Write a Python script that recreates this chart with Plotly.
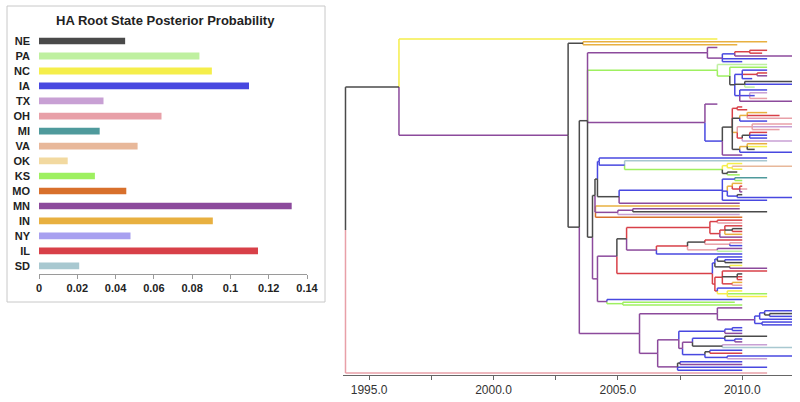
import re
import plotly.graph_objects as go

W, H = 800, 402

# ---------------- bar chart data ----------------
states = ["NE", "PA", "NC", "IA", "TX", "OH", "MI", "VA", "OK", "KS", "MO", "MN", "IN", "NY", "IL", "SD"]
root_prob = [0.0450, 0.0838, 0.0903, 0.1097, 0.0337, 0.0640, 0.0317, 0.0515,
             0.0150, 0.0292, 0.0456, 0.1320, 0.0908, 0.0478, 0.1144, 0.0210]
state_colors = ["#4a4a4a", "#bff0a0", "#f5ee4a", "#4848e0", "#c8a0d4", "#e8a0a8", "#4f9a9c", "#e8b89a",
                "#f2d9a0", "#9ef060", "#d8702c", "#8c4a9c", "#e8b040", "#a8a0f0", "#d84048", "#a8c8d0"]
bar_ticks = [0, 0.02, 0.04, 0.06, 0.08, 0.10, 0.12, 0.14]
bar_ticktext = ["0", "0.02", "0.04", "0.06", "0.08", "0.1", "0.12", "0.14"]

# ---------------- tree data (newick-like: STATE:time) ----------------
clade_top = "(IN:2011.0,IN:2009.8)NE:2003.6"
clade_P1 = "(MN:2009.0,(((IL:2011.0,IL:2010.8)IL:2010.3,MN:2012.0)IA:2009.7,IA:2011.0,IA:2010.0)MN:2009.2)MN:2008.6"
clade_G = ("(PA:2011.0,(KS:2011.0,((IA:2011.0,(IL:2011.0,MN:2011.0)IL:2010.6,IA:2010.4)IA:2010.0,"
           "(NE:2012.0,IA:2012.0,PA:2010.5)NE:2010.1,(IA:2011.0,(TX:2011.0,IA:2010.5,OH:2011.0)IA:2010.3,"
           "MN:2012.0)IA:2009.9)NE:2009.7)KS:2009.5)KS:2009.0")
p2_c1 = "(IL:2010.0,IL:2010.2)IL:2009.8"
p2_c2 = "((IN:2011.0,IL:2011.5,OH:2012.0)IN:2010.2,IA:2011.0)NE:2009.9"
p2_c3 = "((OH:2012.0,TX:2012.0,OH:2011.5)OH:2010.4,((IL:2011.0,IA:2011.0,IA:2011.0)NE:2010.3,TX:2012.0)IL:2010.0)IN:2009.8"
p2_c4 = "((IN:2011.0,NC:2011.0,NE:2010.5)IN:2010.2,IA:2012.0)NE:2009.9"
clade_P2 = "(MN:2009.0,((" + ",".join([p2_c1, p2_c2, p2_c3, p2_c4]) + ")NE:2009.6,MN:2010.0)IA:2009.2)MN:2008.5"
clade_M1a = ("(IA:2011.0,(SD:2011.0,((NC:2010.0,(VA:2012.0,NC:2010.0)NC:2009.6)NC:2009.4,"
             "(NE:2009.8,KS:2009.9)NE:2009.4)KS:2009.2)IA:2005.27)IA:2004.25")
clade_IA = ("((MI:2011.0,KS:2010.0)IA:2009.7,((IN:2010.0,(IL:2010.0,OH:2010.2,MN:2010.0)IL:2009.9)IN:2009.6,"
            "(NE:2010.0,IA:2012.0)IA:2009.8)IA:2009.4,IA:2011.0)IA:2009.2")
clade_M1b = "(" + clade_IA + ",MN:2009.9)NE:2005.05"
clade_M2 = "(IN:2009.9,((MN:2009.9,NE:2011.0)MN:2005.6,TX:2009.9)MN:2005.0,MO:2010.0)MN:2004.1"
clade_M = "((" + clade_M1a + "," + clade_M1b + ")NE:2004.18," + clade_M2 + ")NE:2004.08"
clade_red = ("((IL:2010.0,OH:2010.0)IL:2009.0,((IL:2010.0,(NE:2010.0,IL:2010.0)NE:2009.6,IN:2010.0)IL:2009.3,"
             "MN:2010.0)IL:2009.1)IL:2008.7")
clade_L2a1b = ("(((IL:2010.0,(OH:2010.0,IA:2010.0)OH:2009.5)NE:2008.5,(MN:2010.0,PA:2010.0)OH:2009.0)IL:2007.8,"
               "IA:2010.0)MN:2006.55")
clade_L2a2a = "((IA:2010.0,(IA:2010.0,NE:2010.0)NE:2009.3)IA:2009.0,(NC:2010.0,MN:2011.0)NE:2009.5)IA:2008.9"
clade_L2a2b = ("((IL:2011.0,(NE:2010.0,IL:2010.0,IL:2010.0)NE:2009.8,(IN:2010.0,OH:2010.0)IL:2009.6)IL:2009.2,"
               "(IA:2010.0,(NC:2010.0,KS:2011.0,NC:2011.0)NC:2009.4)IL:2009.0)IL:2008.9")
clade_L2a = ("((" + clade_red + "," + clade_L2a1b + ")NE:2005.35,(" + clade_L2a2a + "," + clade_L2a2b +
             ")IL:2008.8)MN:2004.96")
clade_L2b = "(IA:2010.0,(KS:2009.7,KS:2010.0)KS:2005.2)MN:2004.56"
clade_L1 = "(" + clade_M + ",(" + clade_L2a + "," + clade_L2b + ")MN:2004.18)NE:2003.98"
clade_C1 = ("(MN:2010.0,(((IA:2012.0,(NE:2012.0,IA:2012.0)NE:2011.1)IA:2010.9,IA:2012.0)IA:2010.7,"
            "(IA:2012.0,IA:2012.0)IA:2010.8)MN:2010.5)MN:2009.0")
clade_C2a1 = "((IA:2010.0,IA:2010.0)IA:2009.6,MN:2010.0)IA:2009.3"
clade_C2a2 = "((NE:2011.0,(IA:2010.0,MN:2010.0)IA:2009.7)IA:2009.3,(TX:2011.0,SD:2012.0)NE:2009.2)MN:2008.0"
clade_C2a3 = "((IA:2010.0,IL:2010.0)NE:2008.7,(IA:2012.0,TX:2011.0)IA:2009.4)IA:2008.5"
clade_C2b = "((IA:2010.0,MN:2010.0)NE:2007.5,IA:2011.0,IA:2010.0)MN:2007.4"
clade_C = ("(" + clade_C1 + ",((" + clade_C2a1 + ",(" + clade_C2a2 + "," + clade_C2a3 + ")MN:2007.6)MN:2007.45," +
           clade_C2b + ")MN:2006.6)MN:2005.87")
clade_B = "(" + ",".join([clade_P1, clade_G, clade_P2, clade_L1]) + ")NE:2003.78"
clade_A = "(" + clade_B + "," + clade_C + ")NE:2003.45"
tree_newick = "((NC:2009.0,(" + clade_top + "," + clade_A + ")MN:2003.0)NE:1996.2,OH:2011.0)NE:1994.05"

year_ticks = [1995, 1997.5, 2000, 2002.5, 2005, 2007.5, 2010]
year_ticktext = ["1995.0", "", "2000.0", "", "2005.0", "", "2010.0"]


def parse(s):
    pos = 0

    def node():
        nonlocal pos
        children = []
        if s[pos] == "(":
            pos += 1
            children.append(node())
            while s[pos] == ",":
                pos += 1
                children.append(node())
            pos += 1  # ')'
        m = re.match(r"([A-Z]{2}):([0-9.]+)", s[pos:])
        pos += m.end()
        return {"state": m.group(1), "time": float(m.group(2)), "children": children}

    return node()


root = parse(tree_newick)

leaf_counter = [0]


def layout(n):
    if not n["children"]:
        n["y"] = leaf_counter[0]
        leaf_counter[0] += 1
    else:
        for c in n["children"]:
            layout(c)
        n["y"] = sum(c["y"] for c in n["children"]) / len(n["children"])


layout(root)
N = leaf_counter[0]

segs = {st: ([], []) for st in states}


def collect(n):
    for c in n["children"]:
        xs, ys = segs[c["state"]]
        xs += [n["time"], n["time"], None, n["time"], c["time"], None]
        ys += [n["y"], c["y"], None, c["y"], c["y"], None]
        collect(c)


collect(root)

color_of = dict(zip(states, state_colors))

fig = go.Figure()
fig.add_trace(go.Bar(x=root_prob, y=states, orientation="h", width=0.45,
                     marker=dict(color=state_colors, line=dict(width=0)),
                     xaxis="x", yaxis="y", hoverinfo="skip"))

draw_order = ["SD", "MI", "OK", "VA", "NY", "TX", "OH", "PA", "KS", "NC", "MO", "IN", "IL", "IA", "MN", "NE"]
for st in draw_order:
    xs, ys = segs[st]
    if not xs:
        continue
    fig.add_trace(go.Scatter(x=xs, y=ys, mode="lines", line=dict(color=color_of[st], width=1.5),
                             xaxis="x2", yaxis="y2", hoverinfo="skip", cliponaxis=False))

# tree vertical mapping: leaf 0 at y=39px, last leaf at 373px
top_px, bot_px = 39.0, 373.0
dom_top, dom_bot = 35.0, 375.0
s = (bot_px - top_px) / (N - 1)
yr = [(N - 1) + (dom_bot - bot_px) / s, -(top_px - dom_top) / s]

fig.update_layout(
    width=W, height=H, autosize=False, margin=dict(l=0, r=0, t=0, b=0, pad=0, autoexpand=False),
    paper_bgcolor="white", plot_bgcolor="white", showlegend=False, hovermode=False,
    font=dict(family="Liberation Sans, Arial, sans-serif", color="#222"),
    xaxis=dict(domain=[39 / W, 307 / W], range=[0, 0.14], tickvals=bar_ticks, ticktext=bar_ticktext,
               showline=True, linecolor="#9a9a9a", linewidth=1, ticks="outside", ticklen=4, tickcolor="#9a9a9a",
               showgrid=False, zeroline=False, fixedrange=True, automargin=False,
               tickfont=dict(size=11, color="#222", weight="bold"), anchor="y"),
    yaxis=dict(domain=[1 - 273.5 / H, 1 - 33.5 / H], type="category", categoryorder="array",
               categoryarray=states, autorange="reversed", showline=False, showgrid=False, zeroline=False,
               automargin=False, ticks="", ticklabelstandoff=8,
               tickfont=dict(size=11, color="#222", weight="bold"), anchor="x"),
    xaxis2=dict(domain=[343 / W, 792 / W], range=[1993.95, 2012.0], tickvals=year_ticks, ticktext=year_ticktext,
                showline=True, linecolor="#666", linewidth=1, ticks="outside", ticklen=4, tickcolor="#666",
                showgrid=False, zeroline=False, automargin=False,
                tickfont=dict(size=12, color="#333"), anchor="y2"),
    yaxis2=dict(domain=[1 - dom_bot / H, 1 - dom_top / H], range=yr, visible=False, showgrid=False,
                zeroline=False, automargin=False, anchor="x2"),
    shapes=[dict(type="rect", xref="paper", yref="paper", x0=7 / W, x1=325 / W, y0=1 - 302 / H, y1=1 - 6 / H,
                 line=dict(color="#c8c8c8", width=1), fillcolor="rgba(0,0,0,0)")],
    annotations=[dict(text="<b>HA Root State Posterior Probability</b>", xref="paper", yref="paper",
                      x=165 / W, y=1 - 20 / H, xanchor="center", yanchor="middle", showarrow=False,
                      font=dict(size=13, color="#222"))],
)

post = ("document.body.style.margin='0';document.body.style.padding='0';"
        "document.body.style.overflow='hidden';"
        "var gd=document.getElementById('{plot_id}');"
        "Plotly.relayout(gd,{width:800,height:402});")
fig.write_html("out.html", config={"displayModeBar": False, "responsive": False}, post_script=post)
